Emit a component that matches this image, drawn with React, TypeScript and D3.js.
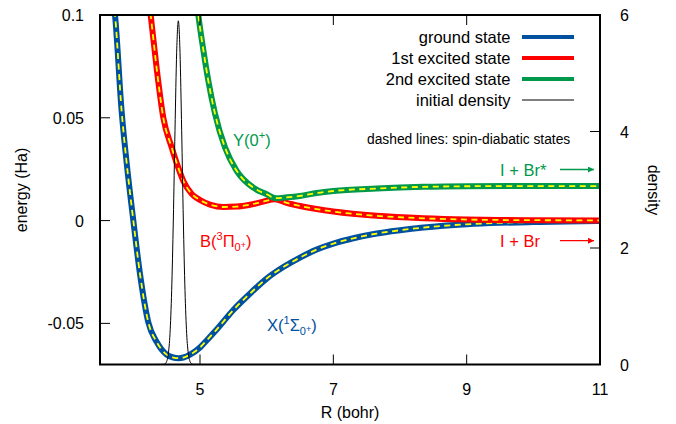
import React from "react";
import * as d3 from "d3";

// ---- data ----
const R_GROUND = [3.68, 3.725, 3.825, 3.9, 4.0, 4.1, 4.225, 4.35, 4.5, 4.6, 4.675, 4.75, 4.85, 5.0, 5.1, 5.25, 5.5, 5.75, 6.0, 6.25, 6.5, 6.75, 7.0, 7.3, 7.65, 8.0, 8.35, 9.0, 9.5, 10.0, 10.5, 11.0];
const E_GROUND = [0.112, 0.1, 0.053, 0.028, 0.0, -0.026, -0.0495, -0.059, -0.0652, -0.0666, -0.0669, -0.0666, -0.0652, -0.0617, -0.0583, -0.053, -0.0435, -0.0355, -0.0282, -0.0226, -0.018, -0.0141, -0.0112, -0.0086, -0.0063, -0.0047, -0.0034, -0.0018, -0.0011, -0.0007, -0.0004, -0.0002];

const R_FIRST = [4.2, 4.26, 4.35, 4.45, 4.575, 4.65, 4.75, 4.875, 5.0, 5.15, 5.35, 5.55, 5.75, 5.95, 6.12, 6.3, 6.5, 6.75, 7.0, 7.65, 8.35, 9.0, 9.5, 10.0, 11.0];
const E_FIRST = [0.116, 0.1, 0.074, 0.05, 0.0356, 0.028, 0.0193, 0.013, 0.01, 0.0078, 0.0066, 0.0068, 0.0077, 0.0092, 0.0104, 0.0086, 0.0071, 0.0056, 0.0044, 0.0023, 0.0011, 0.0005, 0.0003, 0.0002, 0.0001];

const R_SECOND = [4.94, 4.975, 5.05, 5.125, 5.225, 5.375, 5.55, 5.8, 6.0, 6.14, 6.3, 6.5, 6.75, 7.0, 7.65, 8.35, 9.0, 10.0, 11.0];
const E_SECOND = [0.11, 0.1, 0.083, 0.068, 0.052, 0.0356, 0.0242, 0.016, 0.0128, 0.0109, 0.0113, 0.012, 0.0134, 0.0144, 0.0156, 0.0164, 0.0167, 0.0168, 0.0168];

const R_DENSITY = [4.3, 4.45, 4.475, 4.5, 4.525, 4.55, 4.575, 4.6, 4.625, 4.65, 4.675, 4.7, 4.725, 4.75, 4.775, 4.8, 4.825, 4.85, 4.875, 4.9, 5.05];
const D_DENSITY = [0, 0.002, 0.012, 0.053, 0.185, 0.53, 1.27, 2.48, 4.02, 5.36, 5.9, 5.36, 4.02, 2.48, 1.27, 0.53, 0.185, 0.053, 0.012, 0.002, 0];

const X_TICKS = [5, 7, 9, 11];
const E_TICKS = [0.1, 0.05, 0, -0.05];
const E_TICK_LABELS = ["0.1", "0.05", "0", "-0.05"];
const D_TICKS = [0, 2, 4, 6];

const LEGEND_LABELS = ["ground state", "1st excited state", "2nd excited state", "initial density"];

const BLUE = "#0050a0";
const RED = "#ff0000";
const GREEN = "#00994c";
const YELLOW = "#ffff00";
const FONT = "'Liberation Sans', Arial, Helvetica, sans-serif";

export default function App() {
  const W = 676, H = 424;
  const L = 100, Rt = 600, T = 15, B = 364.5;
  const x = d3.scaleLinear().domain([3.5, 11]).range([L, Rt]);
  const yE = d3.scaleLinear().domain([-0.07, 0.1]).range([B, T]);
  const yD = d3.scaleLinear().domain([0, 6]).range([B, T]);

  const lineE = d3
    .line<[number, number]>()
    .x((d) => x(d[0]))
    .y((d) => yE(d[1]))
    .curve(d3.curveMonotoneX);
  const lineD = d3
    .line<[number, number]>()
    .x((d) => x(d[0]))
    .y((d) => yD(d[1]))
    .curve(d3.curveMonotoneX);

  const zip = (a: number[], b: number[]) => a.map((v, i) => [v, b[i]] as [number, number]);
  const series = [
    { d: zip(R_GROUND, E_GROUND), c: BLUE },
    { d: zip(R_FIRST, E_FIRST), c: RED },
    { d: zip(R_SECOND, E_SECOND), c: GREEN },
  ];
  const legendColors = [BLUE, RED, GREEN, "#000"];
  const legendY = [37, 58, 79, 100];

  return (
    <svg
      width={W}
      height={H}
      style={{ position: "absolute", left: 0, top: 0, background: "#fff" }}
      fontFamily={FONT}
    >
      <defs>
        <clipPath id="plotclip">
          <rect x={L} y={T} width={Rt - L} height={B - T} />
        </clipPath>
        <marker id="arrG" viewBox="0 0 10 10" refX="10" refY="5" markerWidth="9" markerHeight="6" markerUnits="userSpaceOnUse" orient="auto">
          <path d="M0,0 L10,5 L0,10 z" fill={GREEN} />
        </marker>
        <marker id="arrR" viewBox="0 0 10 10" refX="10" refY="5" markerWidth="9" markerHeight="6" markerUnits="userSpaceOnUse" orient="auto">
          <path d="M0,0 L10,5 L0,10 z" fill={RED} />
        </marker>
      </defs>
      <rect x={0} y={0} width={W} height={H} fill="#fff" />

      {/* curves */}
      <g clipPath="url(#plotclip)">
        {series.map((s, i) => (
          <g key={i}>
            <path d={lineE(s.d) || ""} fill="none" stroke={s.c} strokeWidth={6} strokeLinejoin="round" />
            <path d={lineE(s.d) || ""} fill="none" stroke={YELLOW} strokeWidth={1.8} strokeDasharray="6,4.5" />
          </g>
        ))}
        <path d={lineD(zip(R_DENSITY, D_DENSITY)) || ""} fill="none" stroke="#000" strokeWidth={1} />
      </g>

      {/* ticks */}
      {X_TICKS.map((t) => (
        <g key={"xt" + t}>
          <line x1={x(t)} x2={x(t)} y1={B} y2={B - 10} stroke="#000" strokeWidth={1} />
          <line x1={x(t)} x2={x(t)} y1={T} y2={T + 10} stroke="#000" strokeWidth={1} />
          <text x={x(t)} y={395} textAnchor="middle" fontSize={16} fill="#000">
            {t}
          </text>
        </g>
      ))}
      {E_TICKS.map((t, i) => (
        <g key={"et" + t}>
          <line x1={L} x2={L + 10} y1={yE(t)} y2={yE(t)} stroke="#000" strokeWidth={1} />
          <text x={84} y={yE(t) + 6} textAnchor="end" fontSize={16} fill="#000">
            {E_TICK_LABELS[i]}
          </text>
        </g>
      ))}
      {D_TICKS.map((t) => (
        <g key={"dt" + t}>
          <line x1={Rt} x2={Rt - 10} y1={yD(t)} y2={yD(t)} stroke="#000" strokeWidth={1} />
          <text x={620} y={yD(t) + 6} textAnchor="start" fontSize={16} fill="#000">
            {t}
          </text>
        </g>
      ))}

      {/* frame */}
      <rect x={L} y={T} width={Rt - L} height={B - T} fill="none" stroke="#000" strokeWidth={2} />

      {/* axis titles */}
      <text transform="translate(27,190) rotate(-90)" textAnchor="middle" fontSize={16} fill="#000">
        energy (Ha)
      </text>
      <text transform="translate(648,190) rotate(90)" textAnchor="middle" fontSize={16} fill="#000">
        density
      </text>
      <text x={350} y={418} textAnchor="middle" fontSize={16} fill="#000">
        R (bohr)
      </text>

      {/* legend */}
      {LEGEND_LABELS.map((lab, i) => (
        <g key={lab}>
          <text x={510.5} y={legendY[i] + 6} textAnchor="end" fontSize={16.5} fill="#000">
            {lab}
          </text>
          <line
            x1={522}
            x2={574}
            y1={legendY[i]}
            y2={legendY[i]}
            stroke={legendColors[i]}
            strokeWidth={i === 3 ? 1 : 4}
          />
        </g>
      ))}
      <text x={367} y={144} fontSize={13.8} fill="#000">
        dashed lines: spin-diabatic states
      </text>

      {/* state labels */}
      <text x={233} y={146} fontSize={16.5} fill={GREEN}>
        Y(0<tspan dy={-7} fontSize={11}>+</tspan>
        <tspan dy={7}>)</tspan>
      </text>
      <text x={200} y={247} fontSize={16.5} fill={RED}>
        B(<tspan dy={-7} fontSize={11}>3</tspan>
        <tspan dy={7}>Π</tspan>
        <tspan dy={4} fontSize={11}>0</tspan>
        <tspan dy={-3} fontSize={9}>+</tspan>
        <tspan dy={-1}>)</tspan>
      </text>
      <text x={267} y={331} fontSize={16.5} fill={BLUE}>
        X(<tspan dy={-7} fontSize={11}>1</tspan>
        <tspan dy={7}>Σ</tspan>
        <tspan dy={4} fontSize={11}>0</tspan>
        <tspan dy={-3} fontSize={9}>+</tspan>
        <tspan dy={-1}>)</tspan>
      </text>

      {/* asymptote labels */}
      <text x={500} y={176} fontSize={16.5} fill={GREEN}>
        I + Br*
      </text>
      <line x1={560} x2={594} y1={169.5} y2={169.5} stroke={GREEN} strokeWidth={1.3} markerEnd="url(#arrG)" />
      <text x={500} y={247} fontSize={16.5} fill={RED}>
        I + Br
      </text>
      <line x1={560} x2={594} y1={240.7} y2={240.7} stroke={RED} strokeWidth={1.3} markerEnd="url(#arrR)" />
    </svg>
  );
}
